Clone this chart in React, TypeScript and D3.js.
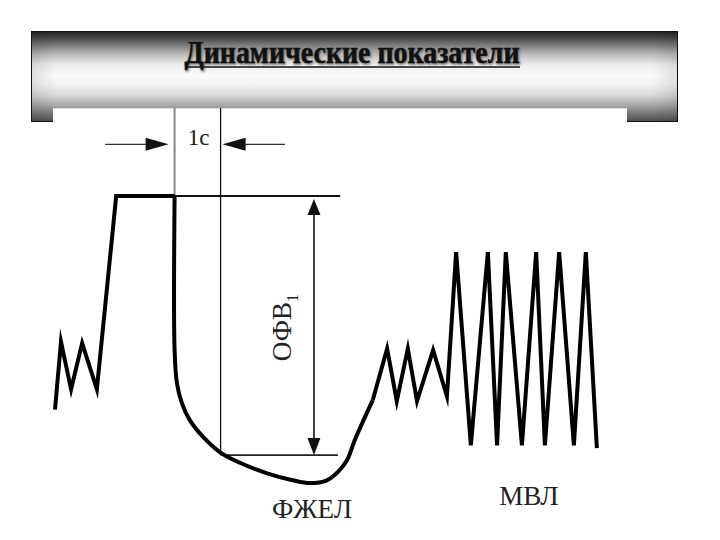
import React from 'react';
import * as d3 from 'd3';

const W = 720;
const H = 540;

// time in seconds, volume in litres
const leftTraceT = [0, 0.13, 0.35, 0.59, 0.91, 1.33, 2.6];
const leftTraceV = [1.72, 2.69, 2.01, 2.67, 2.01, 4.77, 4.77];

const expirationT = [2.6, 2.6, 2.65, 2.76, 2.93, 3.22, 3.59, 4.02, 4.61, 5.17, 5.54, 5.91, 6.15, 6.35, 6.52, 6.91];
const expirationV = [4.77, 2.57, 2.1, 1.81, 1.57, 1.33, 1.11, 0.96, 0.81, 0.71, 0.67, 0.71, 0.83, 1.0, 1.29, 1.86];

const rightTraceT = [6.91, 7.22, 7.43, 7.67, 7.87, 8.22, 8.52, 8.72, 9.04, 9.41, 9.61, 9.8, 10.15, 10.46, 10.65, 10.96, 11.28, 11.54, 11.78];
const rightTraceV = [1.86, 2.59, 1.84, 2.59, 1.84, 2.57, 1.91, 3.97, 1.21, 3.97, 1.21, 3.97, 1.21, 3.97, 1.21, 3.97, 1.21, 3.97, 1.17];

// annotation values
const expStartT = 2.6;
const oneSecondT = 3.6;
const fvcLevel = 4.77;
const fev1Level = 1.07;
const fvcLineEndT = 6.2;
const fev1LineEndT = 6.15;
const arrowT = 5.63;
const topV = 6.03;
const timeArrowV = 5.51;
const timeArrowLeftStart = 1.09;
const timeArrowRightStart = 5.0;

const titleText = 'Динамические показатели';
const labelOneSec = '1с';
const labelFev = 'ОФВ';
const labelFevSub = '1';
const labelFvc = 'ФЖЕЛ';
const labelMvv = 'МВЛ';

const headerStops: [number, string][] = [
  [0, '#1e1e1e'], [0.08, '#4a4a4a'], [0.15, '#777777'], [0.26, '#bdbdbd'], [0.37, '#ececec'],
  [0.48, '#fafafa'], [0.59, '#f2f2f2'], [0.7, '#dadada'], [0.81, '#ababab'], [0.9, '#7a7a7a'], [1, '#4a4a4a'],
];

const x = d3.scaleLinear().domain([0, 12]).range([55, 607]);
const y = d3.scaleLinear().domain([0, 6]).range([530, 110]);

const zip = (ts: number[], vs: number[]) => ts.map((t, i) => [t, vs[i]] as [number, number]);

const linear = d3.line<[number, number]>().x(d => x(d[0])).y(d => y(d[1]));
const smooth = d3.line<[number, number]>().x(d => x(d[0])).y(d => y(d[1])).curve(d3.curveCatmullRom.alpha(0.5));

function arrowHead(tx: number, ty: number, dx: number, dy: number, len: number, half: number) {
  const bx = tx - dx * len;
  const by = ty - dy * len;
  const px = -dy * half;
  const py = dx * half;
  return `M${tx},${ty}L${bx + px},${by + py}L${bx - px},${by - py}Z`;
}

export default function App() {
  const left = linear(zip(leftTraceT, leftTraceV)) || '';
  const exp = smooth(zip(expirationT, expirationV)) || '';
  const right = linear(zip(rightTraceT, rightTraceV)) || '';

  const xs = x(expStartT);
  const x1 = x(oneSecondT);
  const yTop = y(topV);
  const yFvc = y(fvcLevel);
  const yFev = y(fev1Level);
  const xa = x(arrowT);
  const yArr = y(timeArrowV);

  return (
    <svg width={W} height={H} style={{ position: 'absolute', left: 0, top: 0, background: '#fff' }}>
      <defs>
        <linearGradient id="hv" x1="0" y1="0" x2="0" y2="1">
          {headerStops.map(([o, c]) => <stop key={o} offset={o} stopColor={c} />)}
        </linearGradient>
        <linearGradient id="hh" x1="0" y1="0" x2="1" y2="0">
          <stop offset="0" stopColor="#000" stopOpacity="0.1" />
          <stop offset="0.04" stopColor="#000" stopOpacity="0" />
          <stop offset="0.96" stopColor="#000" stopOpacity="0" />
          <stop offset="1" stopColor="#000" stopOpacity="0.1" />
        </linearGradient>
        <filter id="glow" x="-5%" y="-30%" width="110%" height="160%">
          <feGaussianBlur stdDeviation="1.3" />
        </filter>
      </defs>

      {/* header */}
      <rect x={31} y={31} width={647} height={91} fill="url(#hv)" />
      <rect x={31} y={31} width={647} height={91} fill="url(#hh)" />
      <rect x={31.5} y={31.5} width={646} height={90} fill="none" stroke="#111" strokeWidth={1} />
      <rect x={53} y={108} width={574} height={16} fill="#fff" />
      <line x1={53} y1={108} x2={627} y2={108} stroke="#aaa" strokeWidth={0.8} />

      <text x={352} y={63} textAnchor="middle" fontFamily="Liberation Serif" fontWeight="bold" fontSize={32}
        textLength={335} lengthAdjust="spacingAndGlyphs" fill="#777" stroke="#777" strokeWidth={1.5}
        filter="url(#glow)" transform="translate(1,1)">
        {titleText}
      </text>
      <text x={352} y={63} textAnchor="middle" fontFamily="Liberation Serif" fontWeight="bold" fontSize={32}
        textLength={335} lengthAdjust="spacingAndGlyphs" fill="#111" stroke="#111" strokeWidth={0.5}>
        {titleText}
      </text>
      <line x1={185} y1={67} x2={520} y2={67} stroke="#111" strokeWidth={1.5} />

      {/* annotation lines */}
      <line x1={xs} y1={yTop} x2={xs} y2={yFvc} stroke="#888" strokeWidth={2} />
      <line x1={x1} y1={yTop} x2={x1} y2={yFev} stroke="#111" strokeWidth={1.3} />
      <line x1={xs} y1={yFvc} x2={x(fvcLineEndT)} y2={yFvc} stroke="#111" strokeWidth={2} />
      <line x1={x1} y1={yFev} x2={x(fev1LineEndT)} y2={yFev} stroke="#222" strokeWidth={1.8} />

      {/* vertical double arrow */}
      <line x1={xa} y1={yFvc + 12} x2={xa} y2={yFev - 12} stroke="#111" strokeWidth={1.6} />
      <path d={arrowHead(xa, yFvc + 3, 0, -1, 16, 6.5)} fill="#111" />
      <path d={arrowHead(xa, yFev, 0, 1, 17, 6.5)} fill="#111" />

      {/* time arrows */}
      <line x1={x(timeArrowLeftStart)} y1={yArr} x2={xs - 15} y2={yArr} stroke="#333" strokeWidth={1.3} />
      <path d={arrowHead(xs - 6, yArr, 1, 0, 23, 6.5)} fill="#111" />
      <line x1={x(timeArrowRightStart)} y1={yArr} x2={x1 + 15} y2={yArr} stroke="#333" strokeWidth={1.3} />
      <path d={arrowHead(x1 + 2, yArr, -1, 0, 23, 6.5)} fill="#111" />

      {/* spirogram trace */}
      <path d={left} fill="none" stroke="#000" strokeWidth={4} strokeLinejoin="miter" strokeMiterlimit={10} />
      <path d={exp} fill="none" stroke="#000" strokeWidth={4} strokeLinejoin="round" />
      <path d={right} fill="none" stroke="#000" strokeWidth={4} strokeLinejoin="miter" strokeMiterlimit={10} />

      {/* labels */}
      <text x={(xs + x1) / 2 + 1} y={yArr + 1} textAnchor="middle" fontFamily="Liberation Serif" fontSize={23} fill="#222">{labelOneSec}</text>
      <g transform={`translate(${xa - 23},${(yFvc + yFev) / 2 + 2}) rotate(-90)`}>
        <text x={0} y={0} textAnchor="middle" fontFamily="Liberation Serif" fontSize={27} fill="#222">
          {labelFev}
          <tspan fontSize={16} dy={7}>{labelFevSub}</tspan>
        </text>
      </g>
      <text x={312} y={518} textAnchor="middle" fontFamily="Liberation Serif" fontSize={27} fill="#222">{labelFvc}</text>
      <text x={529} y={505} textAnchor="middle" fontFamily="Liberation Serif" fontSize={27} fill="#222">{labelMvv}</text>
    </svg>
  );
}
